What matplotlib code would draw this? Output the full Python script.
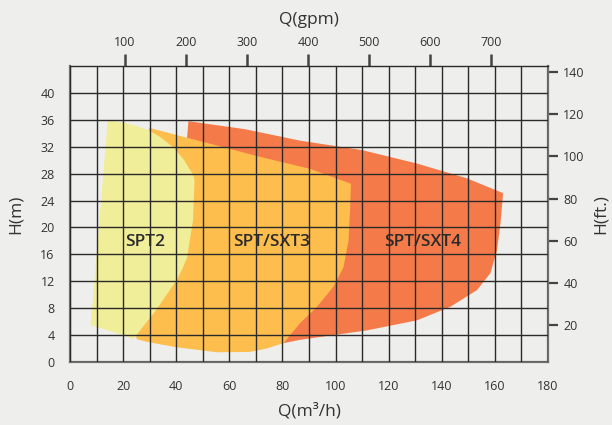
import matplotlib
matplotlib.use("Agg")
import matplotlib.pyplot as plt
from matplotlib.patches import Polygon

# pump range outlines, Q in m3/h, H in m
spt2_q = [14.2, 20.1, 25.0, 29.9, 34.5, 38.9, 43.0, 46.5, 46.9, 46.3, 44.0, 42.0, 40.2, 32.0, 23.8, 20.0, 7.8]
spt2_h = [35.9, 35.6, 35.1, 34.4, 33.3, 31.9, 30.0, 27.7, 27.0, 21.0, 15.4, 13.6, 12.2, 7.5, 3.4, 4.0, 5.5]

sxt3_q = [29.9, 50.3, 71.6, 90.5, 105.8, 105.5, 104.9, 103.0, 99.2, 93.0, 86.7, 80.4, 74.0, 67.8, 55.3, 40.0, 28.9, 25.1, 22.0, 28.0]
sxt3_h = [34.8, 32.7, 30.5, 28.7, 26.5, 23.0, 18.1, 14.1, 11.2, 8.2, 5.8, 2.8, 2.0, 1.5, 1.45, 2.2, 3.0, 3.4, 10.0, 33.0]

sxt4_q = [44.6, 66.0, 86.7, 110.0, 130.7, 149.5, 163.1, 162.1, 160.8, 158.3, 153.3, 143.2, 130.7, 111.8, 86.7, 80.4, 75.0, 50.0, 44.0]
sxt4_h = [35.8, 34.6, 32.9, 31.5, 29.5, 27.3, 25.1, 20.6, 16.6, 13.2, 10.7, 8.2, 6.2, 4.7, 3.3, 2.8, 2.5, 15.0, 33.0]

names = ["SPT2", "SPT/SXT3", "SPT/SXT4"]
label_q = [28.2, 76.0, 132.7]
label_h = [17.8, 17.8, 17.8]
colors = ["#F0EE98", "#FDBE4E", "#F47A4A"]

bg = "#EEEEEC"
fnt = "Open Sans"
fig = plt.figure(figsize=(6.12, 4.25), dpi=100, facecolor=bg)
ax = fig.add_axes([0.1144, 0.1482, 0.781, 0.6965], facecolor=bg)

# red first, yellow on top
for q, h, c in [(sxt4_q, sxt4_h, colors[2]), (sxt3_q, sxt3_h, colors[1]), (spt2_q, spt2_h, colors[0])]:
    ax.add_patch(Polygon(list(zip(q, h)), closed=True, facecolor=c, edgecolor="none", zorder=1))

for n, x, y in zip(names, label_q, label_h):
    ax.text(x, y, n, ha="center", va="center", fontsize=12.5, fontweight="semibold",
            color="#2b2b2b", family=fnt, zorder=3)

ax.set_xlim(0, 180)
ax.set_ylim(0, 44)
ax.set_xticks(range(0, 181, 20))
ax.set_xticks(range(0, 181, 10), minor=True)
ax.set_yticks(range(0, 41, 4))
ax.set_axisbelow(False)
ax.grid(True, which="both", color="#2a2a2a", lw=1.0)
ax.tick_params(which="both", length=0, labelsize=9, colors="#333333", labelcolor="#333333")
ax.tick_params(axis="x", pad=13)
ax.tick_params(axis="y", pad=11)
for s in ax.spines.values():
    s.set_color("#707070")
    s.set_linewidth(1.6)
ax.spines["top"].set_color("#2a2a2a")
ax.spines["top"].set_linewidth(1.0)

ax.set_xlabel("Q(m³/h)", fontsize=12.5, color="#333333", labelpad=7, family=fnt)
ax.set_ylabel("H(m)", fontsize=12.5, color="#333333", labelpad=12, family=fnt)

# secondary scales as placed in the picture
top = ax.secondary_xaxis("top", functions=(lambda q: (q + 2.27) / 0.2297, lambda g: g * 0.2297 - 2.27))
top.set_xticks(range(100, 701, 100))
top.tick_params(length=9, width=1.8, colors="#444444", labelsize=9, labelcolor="#333333", pad=3)
top.spines["top"].set_visible(False)
top.set_xlabel("Q(gpm)", fontsize=12.5, color="#333333", labelpad=9, family=fnt)

right = ax.secondary_yaxis("right", functions=(lambda h: (h + 0.77) / 0.3133, lambda f: f * 0.3133 - 0.77))
right.set_yticks(range(20, 141, 20))
right.tick_params(length=7, width=1.6, colors="#444444", labelsize=9, labelcolor="#333333", pad=4)
right.spines["right"].set_visible(False)
right.set_ylabel("H(ft.)", fontsize=12.5, color="#333333", labelpad=6, family=fnt)

for t in ax.get_xticklabels() + ax.get_yticklabels() + top.get_xticklabels() + right.get_yticklabels():
    t.set_family(fnt)

fig.savefig("out.png", dpi=100, facecolor=bg)
